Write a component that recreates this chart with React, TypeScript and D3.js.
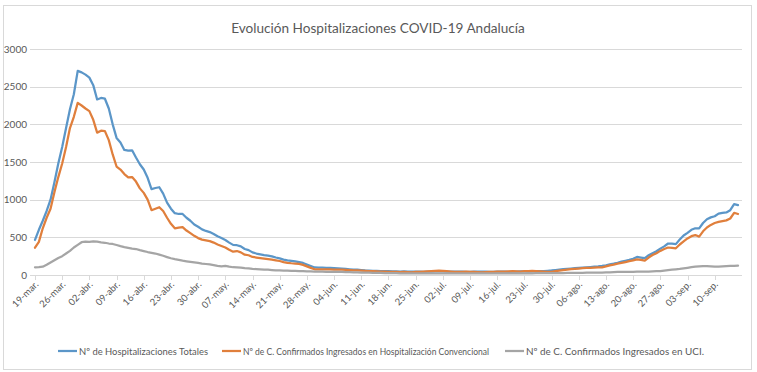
import React, { useEffect, useRef } from 'react'
import * as d3 from 'd3'

// Daily values from 19-mar. (index 0) to 16-sep.
const totales = [
  465, 600, 720, 850, 1000, 1230, 1480, 1700, 1950, 2200, 2400, 2710, 2690, 2660, 2620, 2520, 2330, 2350, 2340, 2210,
  2000, 1820, 1760, 1660, 1650, 1655, 1560, 1470, 1400, 1290, 1140, 1155, 1165, 1080, 960, 880, 820, 810, 810, 760,
  720, 670, 640, 605, 585, 570, 545, 515, 490, 465, 430, 400, 395, 380, 345, 330, 300, 285, 275, 265,
  258, 248, 232, 220, 205, 195, 188, 182, 172, 160, 140, 120, 100, 98, 98, 96, 95, 92, 88, 84,
  80, 76, 72, 70, 66, 60, 58, 55, 54, 52, 52, 50, 48, 48, 46, 47, 45, 44, 46, 45,
  42, 44, 45, 48, 50, 48, 46, 45, 44, 46, 45, 43, 42, 44, 45, 46, 44, 42, 43, 45,
  46, 45, 43, 44, 46, 48, 47, 46, 48, 50, 52, 53, 56, 60, 66, 72, 78, 82, 86, 90,
  94, 98, 102, 106, 110, 114, 120, 128, 140, 150, 162, 177, 188, 200, 215, 240, 232, 225, 262, 290,
  315, 350, 380, 418, 415, 410, 470, 525, 560, 600, 620, 618, 690, 740, 765, 780, 815, 825, 830, 860,
  940, 928,
]
const convencional = [
  362, 440, 620, 760, 880, 1100, 1300, 1480, 1700, 1950, 2100, 2285, 2250, 2210, 2175, 2060, 1890, 1915, 1910, 1790,
  1600, 1440, 1400, 1340, 1295, 1300, 1240, 1150, 1090, 1000, 860, 880, 900, 850, 760, 680, 620, 630, 636, 590,
  555, 520, 490, 470, 460, 450, 430, 405, 385, 365, 335, 310, 318, 300, 270, 262, 240, 232, 225, 218,
  212, 205, 195, 186, 172, 162, 156, 152, 148, 135, 115, 95, 76, 75, 75, 74, 74, 73, 72, 71,
  68, 65, 62, 60, 57, 55, 52, 50, 48, 46, 45, 43, 42, 40, 38, 40, 38, 36, 40, 42,
  45, 48, 52, 56, 58, 55, 50, 46, 42, 40, 42, 45, 43, 40, 38, 36, 38, 40, 42, 44,
  45, 46, 48, 50, 48, 46, 50, 52, 55, 52, 48, 44, 40, 42, 50, 58, 66, 72, 78, 82,
  86, 90, 94, 96, 98, 100, 102, 115, 128, 138, 150, 160, 172, 185, 195, 208, 200, 190, 232, 265,
  290, 320, 345, 365, 360, 355, 405, 445, 485, 515, 530, 510, 580, 630, 665, 690, 705, 715, 725, 750,
  826, 810,
]
const uci = [
  102, 104, 110, 135, 165, 195, 225, 250, 285, 320, 365, 400, 435, 442, 440, 446, 442, 432, 428, 418,
  412, 398, 383, 370, 360, 350, 345, 330, 318, 305, 295, 285, 270, 255, 238, 222, 210, 200, 190, 182,
  175, 168, 160, 152, 146, 140, 132, 122, 115, 120, 110, 103, 100, 98, 92, 88, 82, 78, 75, 72,
  70, 66, 62, 60, 58, 57, 55, 54, 52, 50, 48, 47, 46, 45, 44, 43, 42, 41, 40, 40,
  39, 38, 36, 35, 33, 32, 30, 29, 28, 27, 26, 25, 24, 24, 23, 23, 22, 22, 23, 22,
  22, 21, 21, 22, 22, 21, 21, 20, 20, 21, 21, 20, 20, 20, 21, 21, 22, 22, 21, 21,
  22, 22, 22, 23, 23, 22, 22, 23, 23, 24, 24, 24, 25, 25, 25, 26, 26, 27, 28, 28,
  29, 29, 30, 30, 31, 31, 32, 34, 36, 38, 40, 41, 42, 42, 43, 44, 44, 45, 46, 48,
  50, 53, 58, 64, 70, 76, 80, 88, 96, 104, 110, 114, 118, 119, 116, 110, 112, 116, 119, 120,
  122, 124,
]

const tickLabels = [
  '19-mar.', '26-mar.', '02-abr.', '09-abr.', '16-abr.', '23-abr.', '30-abr.', '07-may.', '14-may.',
  '21-may.', '28-may.', '04-jun.', '11-jun.', '18-jun.', '25-jun.', '02-jul.', '09-jul.', '16-jul.',
  '23-jul.', '30-jul.', '06-ago.', '13-ago.', '20-ago.', '27-ago.', '03-sep.', '10-sep.',
]
const yTicks = [0, 500, 1000, 1500, 2000, 2500, 3000]

const seriesNames = [
  'Nº de Hospitalizaciones Totales',
  'Nº de C. Confirmados Ingresados en Hospitalización Convencional',
  'Nº de C. Confirmados Ingresados en UCI.',
]
const seriesColors = ['#5b96c8', '#e07f3c', '#a5a5a5']

export default function App() {
  const ref = useRef<HTMLDivElement>(null)

  useEffect(() => {
    document.body.style.margin = '0'
    const W = 757
    const H = 372
    const font = 'Lato, "Open Sans", sans-serif'
    const labelColor = '#595959'

    d3.select(ref.current).selectAll('*').remove()
    const svg = d3
      .select(ref.current)
      .append('svg')
      .attr('width', W)
      .attr('height', H)
      .style('display', 'block')
      .style('font-family', font)

    svg.append('rect').attr('width', W).attr('height', H).attr('fill', 'white')
    // chart border
    svg
      .append('rect')
      .attr('x', 3.5)
      .attr('y', 5.5)
      .attr('width', 748)
      .attr('height', 364)
      .attr('fill', 'none')
      .attr('stroke', '#d9d9d9')

    // title
    svg
      .append('text')
      .attr('x', 378)
      .attr('y', 33)
      .attr('text-anchor', 'middle')
      .attr('font-size', 13.6)
      .attr('fill', labelColor)
      .text('Evolución Hospitalizaciones COVID-19 Andalucía')

    const x = d3.scaleLinear().domain([0, totales.length - 1]).range([35, 738])
    const y = d3.scaleLinear().domain([0, 3000]).range([275, 49])
    const gridLeft = 30
    const gridRight = 742

    // gridlines + y labels
    const yg = svg.append('g')
    yg.selectAll('line')
      .data(yTicks)
      .join('line')
      .attr('x1', gridLeft)
      .attr('x2', gridRight)
      .attr('y1', (d) => Math.round(y(d)) + 0.5)
      .attr('y2', (d) => Math.round(y(d)) + 0.5)
      .attr('stroke', '#d9d9d9')
    yg.selectAll('text')
      .data(yTicks)
      .join('text')
      .attr('x', 27)
      .attr('y', (d) => y(d) + 3.5)
      .attr('text-anchor', 'end')
      .attr('font-size', 10)
      .attr('fill', labelColor)
      .text((d) => d)

    // x ticks and rotated labels
    const tickIdx = tickLabels.map((_, i) => i * 7)
    const xg = svg.append('g')
    xg.selectAll('line')
      .data(tickIdx)
      .join('line')
      .attr('x1', (d) => Math.round(x(d)) + 0.5)
      .attr('x2', (d) => Math.round(x(d)) + 0.5)
      .attr('y1', 275)
      .attr('y2', 280)
      .attr('stroke', '#d9d9d9')
    xg.selectAll('text')
      .data(tickIdx)
      .join('text')
      .attr('text-anchor', 'end')
      .attr('font-size', 9.5)
      .attr('fill', labelColor)
      .attr('transform', (d) => 'translate(' + (x(d) + 4) + ',285) rotate(-45)')
      .text((d, i) => tickLabels[i])

    // lines (drawn in series order, UCI on top)
    const line = d3
      .line<number>()
      .x((d, i) => x(i))
      .y((d) => y(d))
    const allSeries = [totales, convencional, uci]
    allSeries.forEach((s, i) => {
      svg
        .append('path')
        .datum(s)
        .attr('d', line)
        .attr('fill', 'none')
        .attr('stroke', seriesColors[i])
        .attr('stroke-width', 2.25)
        .attr('stroke-linejoin', 'round')
        .attr('stroke-linecap', 'round')
    })

    // legend
    const legendX = [58, 222, 505]
    const legendW = [129, 246, 178]
    const lg = svg.append('g')
    seriesNames.forEach((name, i) => {
      lg.append('line')
        .attr('x1', legendX[i])
        .attr('x2', legendX[i] + 19)
        .attr('y1', 351)
        .attr('y2', 351)
        .attr('stroke', seriesColors[i])
        .attr('stroke-width', 2.25)
      lg.append('text')
        .attr('x', legendX[i] + 21)
        .attr('y', 354.5)
        .attr('font-size', 9.3)
        .attr('fill', labelColor)
        .attr('textLength', legendW[i])
        .attr('lengthAdjust', 'spacingAndGlyphs')
        .text(name)
    })
  }, [])

  return <div ref={ref}></div>
}
